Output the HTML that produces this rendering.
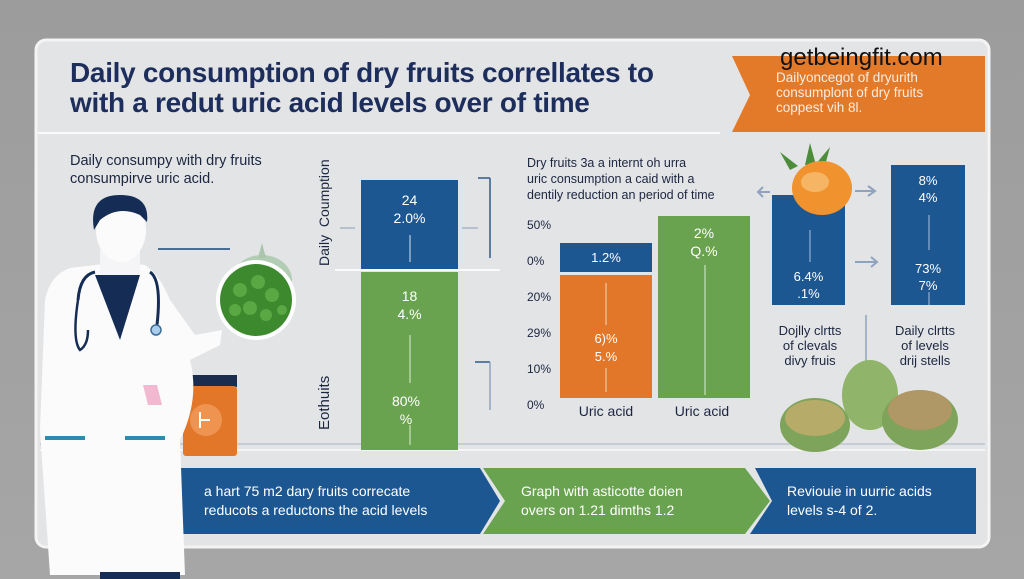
<!DOCTYPE html>
<html><head><meta charset="utf-8"><style>
body{margin:0;width:1024px;height:579px;overflow:hidden;background:#a2a2a2;font-family:"Liberation Sans",sans-serif;}
.a{position:absolute;}
svg{position:absolute;left:0;top:0;}
</style></head><body>
<svg width="1024" height="579" viewBox="0 0 1024 579">
<defs><linearGradient id="bg" x1="0" y1="0" x2="0" y2="1"><stop offset="0" stop-color="#9c9c9c"/><stop offset="1" stop-color="#a6a6a6"/></linearGradient></defs>
<rect width="1024" height="579" fill="url(#bg)"/>
<rect x="36" y="40" width="953" height="507" rx="10" fill="#e3e4e6" stroke="#f4f4f4" stroke-width="3"/>
<line x1="38" y1="133" x2="720" y2="133" stroke="#fafafa" stroke-width="2"/>
<polygon points="732,56 985,56 985,132 732,132 750,95" fill="#e27a2a"/>
<line x1="40" y1="444" x2="985" y2="444" stroke="#c6ccd6" stroke-width="2"/>
<line x1="40" y1="450" x2="985" y2="450" stroke="#f4f4f4" stroke-width="2"/>
<line x1="478" y1="178" x2="490" y2="178" stroke="#2f5a8a" stroke-width="1.5"/>
<line x1="490" y1="178" x2="490" y2="258" stroke="#2f5a8a" stroke-width="1.5"/>
<line x1="475" y1="362" x2="490" y2="362" stroke="#2f5a8a" stroke-width="1.5"/>
<line x1="490" y1="362" x2="490" y2="410" stroke="#8fa3bf" stroke-width="1.5"/>
<line x1="340" y1="228" x2="355" y2="228" stroke="#b6c0cf" stroke-width="2"/>
<line x1="462" y1="228" x2="478" y2="228" stroke="#b6c0cf" stroke-width="2"/>
<rect x="361" y="180" width="97" height="90" fill="#1d5792"/>
<rect x="361" y="272" width="97" height="178" fill="#69a34f"/>
<line x1="335" y1="270" x2="500" y2="270" stroke="#fafafa" stroke-width="2"/>
<line x1="410" y1="235" x2="410" y2="262" stroke="#d9e3ef" stroke-width="1"/>
<line x1="410" y1="335" x2="410" y2="383" stroke="#d9eed1" stroke-width="1"/>
<line x1="410" y1="425" x2="410" y2="445" stroke="#d9eed1" stroke-width="1"/>
<rect x="560" y="243" width="92" height="29" fill="#1d5792"/>
<rect x="560" y="275" width="92" height="123" fill="#e2772a"/>
<rect x="658" y="216" width="92" height="182" fill="#69a34f"/>
<line x1="606" y1="283" x2="606" y2="325" stroke="#f5d5b5" stroke-width="1"/>
<line x1="606" y1="368" x2="606" y2="392" stroke="#f5d5b5" stroke-width="1"/>
<line x1="705" y1="265" x2="705" y2="395" stroke="#d9eed1" stroke-width="1"/>
<rect x="772" y="195" width="73" height="110" fill="#1d5792"/>
<rect x="891" y="165" width="74" height="140" fill="#1d5792"/>
<line x1="929" y1="215" x2="929" y2="250" stroke="#a8c0dc" stroke-width="1"/>
<line x1="929" y1="292" x2="929" y2="305" stroke="#a8c0dc" stroke-width="1"/>
<line x1="810" y1="230" x2="810" y2="262" stroke="#a8c0dc" stroke-width="1"/>
<path d="M855 191 h20 M868 186 l7 5 l-7 5" stroke="#8fa3bf" stroke-width="2" fill="none"/>
<path d="M855 262 h22 M871 257 l6 5 l-6 5" stroke="#8fa3bf" stroke-width="2" fill="none"/>
<path d="M758 192 h12 M763 187 l-5 5 l5 5" stroke="#8fa3bf" stroke-width="2" fill="none"/>
<line x1="866" y1="315" x2="866" y2="370" stroke="#8fa3bf" stroke-width="1.5"/>
<path d="M790 170 l-10 -18 l18 14 z M805 165 l5 -22 l6 22 z M815 165 l15 -18 l-6 22z" fill="#4d8d3a"/>
<ellipse cx="822" cy="188" rx="30" ry="27" fill="#f0922e"/>
<ellipse cx="815" cy="182" rx="14" ry="10" fill="#f6b565"/>
<ellipse cx="870" cy="395" rx="28" ry="35" fill="#8fb46a"/>
<ellipse cx="815" cy="425" rx="35" ry="27" fill="#7ea35a"/>
<ellipse cx="815" cy="418" rx="30" ry="18" fill="#b7ab6a"/>
<ellipse cx="920" cy="420" rx="38" ry="30" fill="#7ea35a"/>
<ellipse cx="920" cy="410" rx="32" ry="20" fill="#b09766"/>
<polygon points="50,468 480,468 500,501 480,534 50,534" fill="#1d5792"/>
<polygon points="483,468 745,468 770,501 745,534 483,534 505,501" fill="#69a34f"/>
<polygon points="755,468 976,468 976,534 750,534 772,501" fill="#1d5792"/>
<rect x="183" y="375" width="54" height="12" fill="#1b2d4f"/>
<rect x="183" y="386" width="54" height="70" rx="3" fill="#e2772a"/>
<circle cx="206" cy="420" r="16" fill="#ee9450"/>
<path d="M200 412 v16 M200 420 h10" stroke="#fff" stroke-width="2"/>
<ellipse cx="262" cy="280" rx="30" ry="25" fill="#b3cdb5"/>
<path d="M258 258 l4 -15 l4 15 z" fill="#a9c6ac"/>
<circle cx="256" cy="300" r="40" fill="#fff"/>
<circle cx="256" cy="300" r="36" fill="#3d8a2e"/>
<g fill="#5aa844"><circle cx="240" cy="290" r="7"/><circle cx="258" cy="282" r="7"/><circle cx="272" cy="295" r="7"/><circle cx="250" cy="308" r="7"/><circle cx="266" cy="315" r="6"/><circle cx="235" cy="310" r="6"/><circle cx="282" cy="310" r="5"/></g>
<line x1="158" y1="249" x2="230" y2="249" stroke="#4a6d95" stroke-width="2"/>
<path d="M70 268 Q50 275 45 300 L40 430 L50 575 L185 575 L180 440 Q200 400 190 360 L220 345 L222 330 L195 335 L170 300 Q160 275 145 265 L120 262 Z" fill="#fbfbfc"/>
<path d="M95 275 L120 340 L140 275 Z" fill="#152d55"/>
<path d="M78 300 Q80 275 95 272 M150 272 Q162 280 157 325" stroke="#152d55" stroke-width="3" fill="none"/>
<circle cx="156" cy="330" r="5" fill="#a9cdea" stroke="#3d6d9a" stroke-width="1.5"/>
<path d="M78 300 Q72 340 80 350 Q88 345 88 330" stroke="#152d55" stroke-width="2.5" fill="none"/>
<rect x="45" y="436" width="40" height="4" fill="#2f8ab0"/>
<rect x="125" y="436" width="40" height="4" fill="#2f8ab0"/>
<path d="M143 385 l14 0 l5 20 l-14 0 z" fill="#f2b8d0"/>
<rect x="100" y="250" width="40" height="25" fill="#f5f5f7"/>
<ellipse cx="121" cy="230" rx="25" ry="32" fill="#fbfbfc"/>
<path d="M94 230 Q88 195 120 195 Q150 195 147 222 L140 215 Q118 205 100 220 Z" fill="#152d55"/>
<rect x="100" y="572" width="80" height="7" fill="#152d55"/>
</svg>

<div class="a" style="left:70px;top:58px;font-size:28px;line-height:30px;color:#1d2e5c;font-weight:bold;letter-spacing:-0.3px;">Daily consumption of dry fruits correllates to<br>with a redut uric acid levels over of time</div>
<div class="a" style="left:780px;top:44px;font-size:24px;color:#111;">getbeingfit.com</div>
<div class="a" style="left:776px;top:70px;font-size:13.5px;line-height:15px;color:#f8ece0;">Dailyoncegot of dryurith<br>consumplont of dry fruits<br>coppest vih 8l.</div>
<div class="a" style="left:70px;top:152px;font-size:14.5px;line-height:18px;color:#1b2640;">Daily consumpy with dry fruits<br>consumpirve uric acid.</div>
<div class="a" style="left:316px;top:178px;width:20px;height:90px;"><div style="transform:rotate(-90deg) translate(-88px,0);transform-origin:left top;font-size:14px;color:#1b2640;white-space:nowrap;">Daily &nbsp;Coumption</div></div>
<div class="a" style="left:316px;top:360px;"><div style="transform:rotate(-90deg) translate(-70px,0);transform-origin:left top;font-size:15px;color:#1b2640;">Eothuits</div></div>
<div class="a" style="left:361px;width:97px;text-align:center;top:191px;font-size:14px;line-height:18px;color:#fff;">24<br>2.0%</div>
<div class="a" style="left:361px;width:97px;text-align:center;top:287px;font-size:14px;line-height:18px;color:#fff;">18<br>4.%</div>
<div class="a" style="left:361px;width:90px;text-align:center;top:392px;font-size:14px;line-height:18px;color:#fff;">80%<br>%</div>
<div class="a" style="left:527px;top:155px;font-size:12.5px;line-height:16px;color:#1b2640;">Dry fruits 3a a internt oh urra<br>uric consumption a caid with a<br>dentily reduction an period of time</div>
<div class="a" style="left:527px;top:207px;font-size:12px;line-height:36px;color:#1b2640;">50%<br>0%<br>20%<br>29%<br>10%<br>0%</div>
<div class="a" style="left:560px;width:92px;text-align:center;top:250px;font-size:13px;color:#fff;">1.2%</div>
<div class="a" style="left:560px;width:92px;text-align:center;top:330px;font-size:13px;line-height:18px;color:#fff;">6)%<br>5.%</div>
<div class="a" style="left:658px;width:92px;text-align:center;top:224px;font-size:14px;line-height:18px;color:#fff;">2%<br>Q.%</div>
<div class="a" style="left:560px;width:92px;text-align:center;top:403px;font-size:14px;color:#1b2640;">Uric acid</div>
<div class="a" style="left:656px;width:92px;text-align:center;top:403px;font-size:14px;color:#1b2640;">Uric acid</div>
<div class="a" style="left:772px;width:73px;text-align:center;top:268px;font-size:13px;line-height:17px;color:#fff;">6.4%<br>.1%</div>
<div class="a" style="left:891px;width:74px;text-align:center;top:172px;font-size:13px;line-height:17px;color:#fff;">8%<br>4%</div>
<div class="a" style="left:891px;width:74px;text-align:center;top:260px;font-size:13px;line-height:17px;color:#fff;">73%<br>7%</div>
<div class="a" style="left:765px;width:90px;text-align:center;top:323px;font-size:13px;line-height:15px;color:#1b2640;">Dojlly clrtts<br>of clevals<br>divy fruis</div>
<div class="a" style="left:880px;width:90px;text-align:center;top:323px;font-size:13px;line-height:15px;color:#1b2640;">Daily clrtts<br>of levels<br>drij stells</div>
<div class="a" style="left:204px;top:482px;font-size:14px;line-height:19px;color:#fff;">a hart 75 m2 dary fruits correcate<br>reducots a reductons the acid levels</div>
<div class="a" style="left:521px;top:482px;font-size:14px;line-height:19px;color:#fff;">Graph with asticotte doien<br>overs on 1.21 dimths 1.2</div>
<div class="a" style="left:787px;top:482px;font-size:14px;line-height:19px;color:#fff;">Reviouie in uurric acids<br>levels s-4 of 2.</div>
</body></html>
